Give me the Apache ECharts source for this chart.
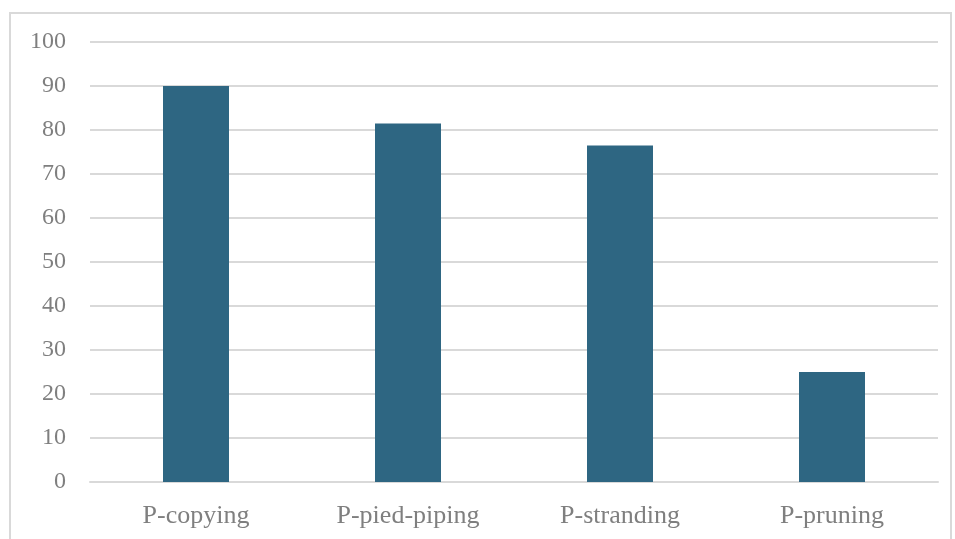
<!DOCTYPE html>
<html><head><meta charset="utf-8">
<script src="https://cdn.jsdelivr.net/npm/echarts@6/dist/echarts.min.js"></script>
<style>html,body{margin:0;padding:0;background:#fff}#c{width:955px;height:539px}</style>
</head><body><div id="c"></div>
<script>
const categories = ["P-copying", "P-pied-piping", "P-stranding", "P-pruning"];
const values = [90, 81.5, 76.5, 25];
const yTicks = [0, 10, 20, 30, 40, 50, 60, 70, 80, 90, 100];

const chart = echarts.init(document.getElementById('c'), null, {renderer: 'canvas'});
const font = "'Liberation Serif', 'DejaVu Serif', serif";
chart.setOption({
  animation: false,
  backgroundColor: '#fff',
  graphic: [{
    type: 'rect', silent: true, z: -1,
    shape: {x: 10, y: 13, width: 941, height: 540},
    style: {fill: 'none', stroke: '#d9d9d9', lineWidth: 2}
  }],
  grid: {left: 90, right: 17, top: 42, bottom: 57},
  xAxis: {
    type: 'category', data: categories,
    axisLine: {show: true, lineStyle: {color: '#d9d9d9', width: 2}},
    axisTick: {show: false},
    axisLabel: {color: '#7f7f7f', fontSize: 26, fontFamily: font, margin: 21}
  },
  yAxis: {
    type: 'value', min: yTicks[0], max: yTicks[yTicks.length - 1], interval: 10,
    axisLine: {show: false}, axisTick: {show: false},
    splitLine: {lineStyle: {color: '#d9d9d9', width: 2}},
    axisLabel: {color: '#7f7f7f', fontSize: 24, fontFamily: font, margin: 24}
  },
  series: [{
    type: 'bar', data: values, barWidth: 66,
    itemStyle: {color: '#2e6682'}
  }]
});
</script></body></html>
